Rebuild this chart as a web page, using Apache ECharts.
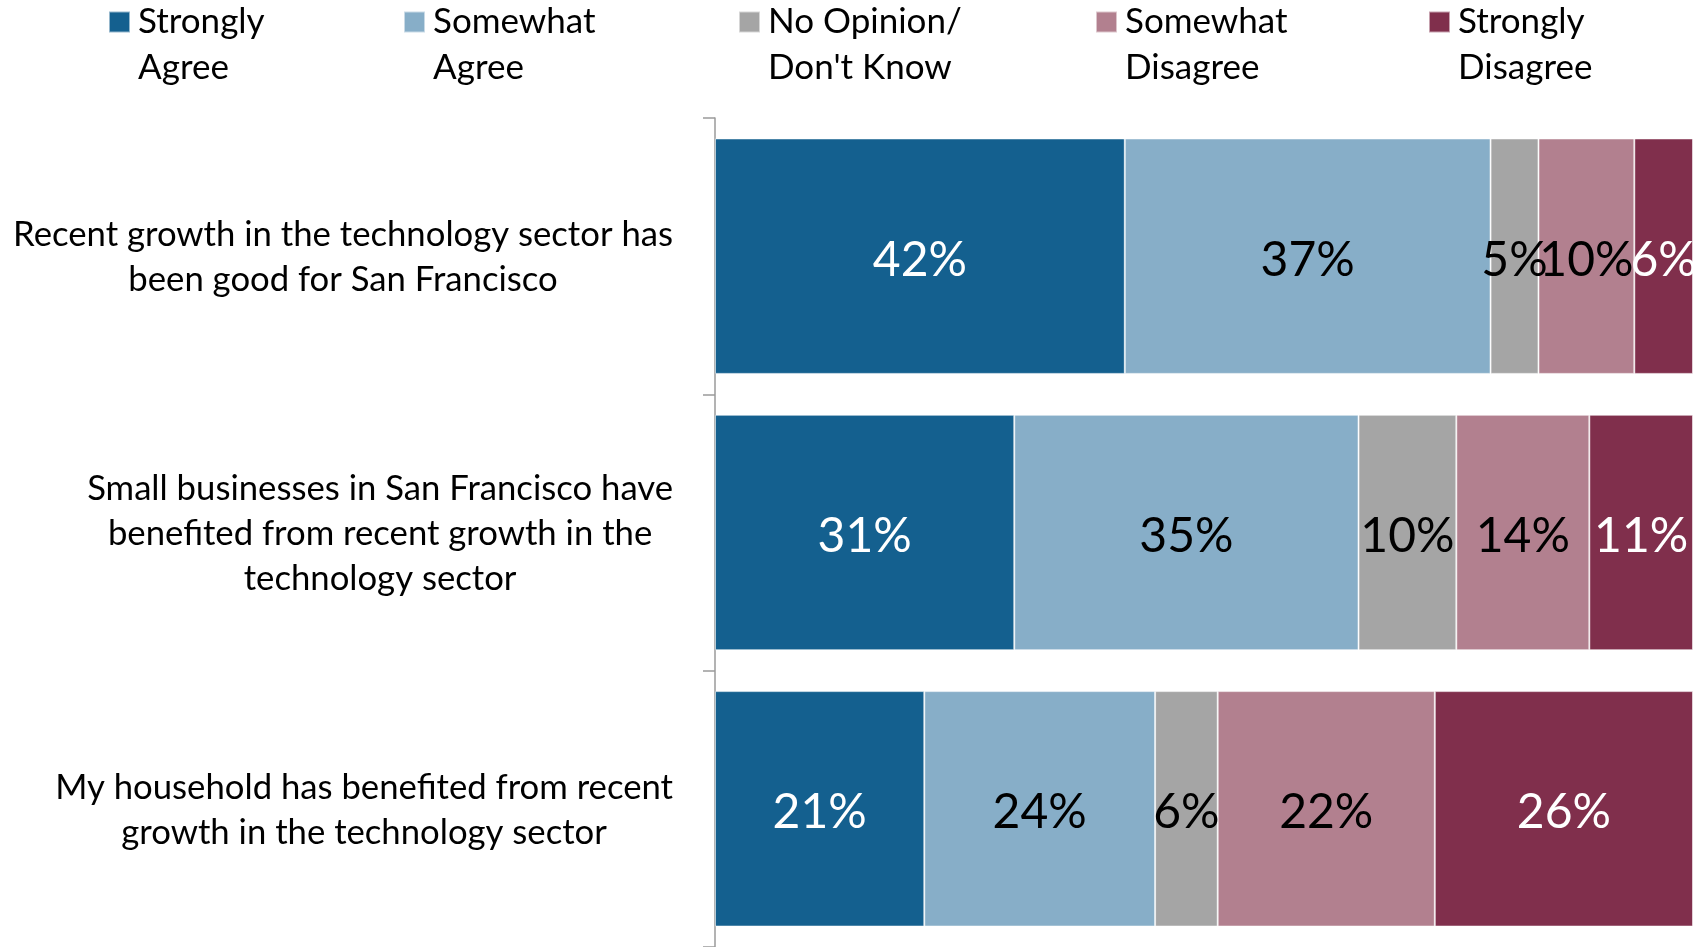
<!DOCTYPE html>
<html>
<head>
<meta charset="utf-8">
<script src="https://cdn.jsdelivr.net/npm/echarts@6/dist/echarts.min.js"></script>
<style>
  html, body { margin: 0; padding: 0; background: #fff; }
  #chart { width: 1706px; height: 947px; }
</style>
</head>
<body>
<div id="chart"></div>
<script>
// ---- Data ----
const categories = [
  'Recent growth in the technology sector has\nbeen good for San Francisco',
  'Small businesses in San Francisco have\nbenefited from recent growth in the\ntechnology sector',
  'My household has benefited from recent\ngrowth in the technology sector'
];
const seriesNames = ['Strongly\nAgree', 'Somewhat\nAgree', 'No Opinion/\nDon\'t Know', 'Somewhat\nDisagree', 'Strongly\nDisagree'];
const stronglyAgree    = [41.9, 30.6, 21.4];
const somewhatAgree    = [37.4, 35.2, 23.6];
const noOpinion        = [4.9, 10.0, 6.4];
const somewhatDisagree = [9.8, 13.6, 22.2];
const stronglyDisagree = [6.0, 10.6, 26.4];

// ---- Styles ----
const seriesValues = [stronglyAgree, somewhatAgree, noOpinion, somewhatDisagree, stronglyDisagree];
const colors = ['#14608F', '#87AEC8', '#A5A5A5', '#B2808F', '#802F4C'];
const labelColors = ['#ffffff', '#000000', '#000000', '#000000', '#ffffff'];
const legendLeft = [108, 403, 738, 1095, 1428];
const FONT = 'Lato, "Open Sans", sans-serif';

const chart = echarts.init(document.getElementById('chart'), null, { renderer: 'canvas' });

const legends = seriesNames.map((n, i) => ({
  data: [n],
  left: legendLeft[i],
  top: -47,
  padding: 0,
  orient: 'horizontal',
  itemWidth: 21,
  itemHeight: 21,
  icon: 'rect',
  selectedMode: false,
  formatter: name => '\n' + name,
  textStyle: {
    fontFamily: FONT,
    fontSize: 35,
    lineHeight: 46,
    color: '#000',
    padding: [0, 0, 0, 3]
  }
}));

const series = seriesNames.map((n, i) => ({
  name: n,
  type: 'bar',
  stack: 'total',
  barCategoryGap: '14.8%',
  data: seriesValues[i],
  itemStyle: {
    color: colors[i],
    borderColor: 'rgba(255,255,255,0.55)',
    borderWidth: 1
  },
  label: {
    show: true,
    position: 'inside',
    offset: [0, 4],
    formatter: p => Math.round(p.value) + '%',
    color: labelColors[i],
    fontFamily: FONT,
    fontSize: 48,
    textBorderWidth: 0
  },
  emphasis: { disabled: true }
}));

chart.setOption({
  animation: false,
  backgroundColor: '#ffffff',
  legend: legends,
  grid: { left: 715, right: 13, top: 118, height: 832, containLabel: false },
  xAxis: {
    type: 'value',
    min: 0,
    max: 100,
    show: false
  },
  yAxis: {
    type: 'category',
    data: categories,
    inverse: true,
    axisLine: { show: true, lineStyle: { color: '#9A9A9A', width: 1.5 } },
    axisTick: { show: true, length: 12, inside: false, lineStyle: { color: '#9A9A9A', width: 1.5 } },
    axisLabel: {
      margin: 42,
      formatter: v => v.split('\n').map(l => '{c|' + l + '}').join('\n'),
      rich: {
        c: {
          align: 'center',
          fontFamily: FONT,
          fontSize: 34.7,
          lineHeight: 45,
          padding: [2, 0, 0, 0],
          color: '#000'
        }
      }
    },
    splitLine: { show: false }
  },
  series: series
});
</script>
</body>
</html>
